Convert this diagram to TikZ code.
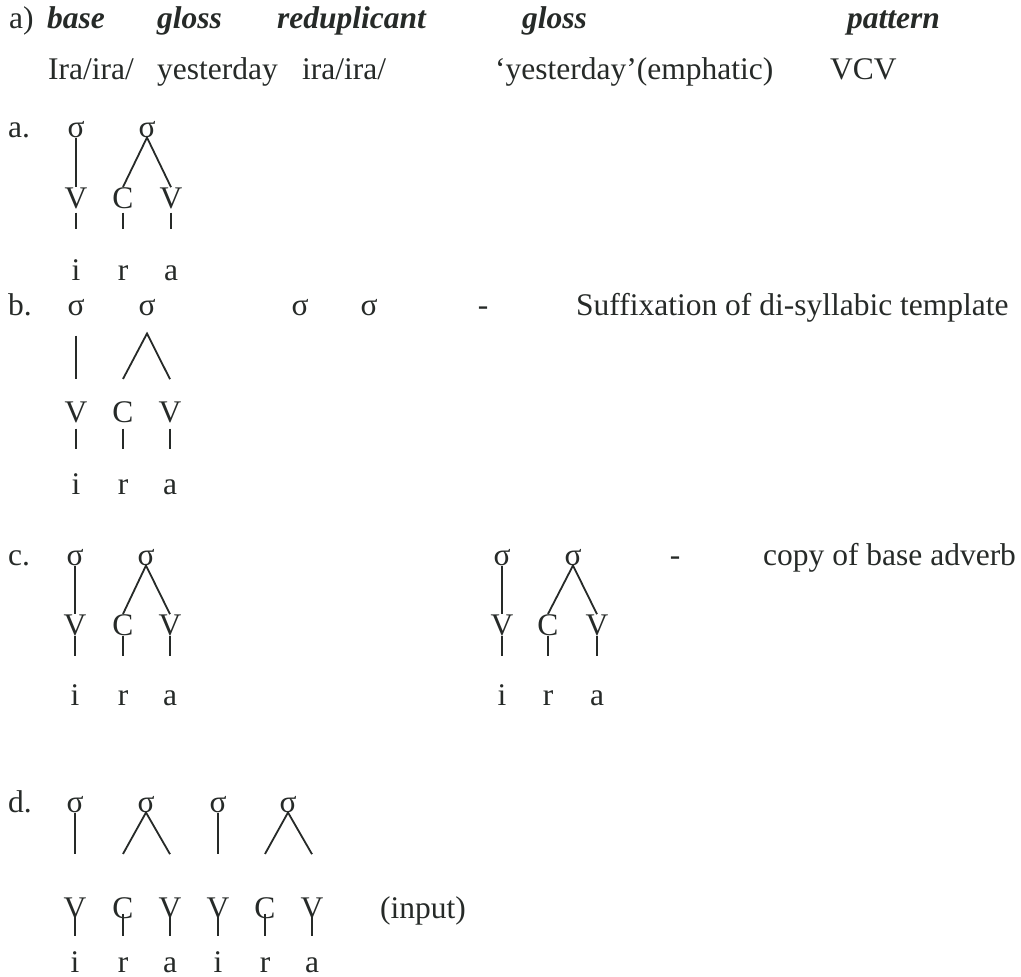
\documentclass[tikz,border=0pt]{standalone}
\usepackage{fontspec}
\setmainfont{Liberation Serif}
\usetikzlibrary{calc}
\definecolor{ink}{HTML}{262A28}

\begin{document}
\fontsize{31.5}{37}\selectfont
\begin{tikzpicture}[x=1pt,y=-1pt,
  every node/.style={inner sep=0pt,anchor=base,text=ink},
  lbl/.style={anchor=base west},
  hd/.style={anchor=base west,font=\bfseries\itshape},
  seg/.style={text height=1.5ex,text depth=0pt},
  assoc/.style={line width=1.8pt,draw=ink}]
\useasboundingbox (0,0) rectangle (1021,977);

\node[lbl] (h-a) at (9,28) {a)};
\node[hd] (h-base) at (47,28) {base};
\node[hd] (h-gloss) at (157,28) {gloss};
\node[hd] (h-red) at (277,28) {reduplicant};
\node[hd] (h-rgloss) at (522,28) {gloss};
\node[hd] (h-pat) at (847,28) {pattern};
\node[lbl] (r-base) at (48,79) {Ira/ira/};
\node[lbl] (r-gloss) at (157,79) {yesterday};
\node[lbl] (r-red) at (302,79) {ira/ira/};
\node[lbl] (r-rgloss) at (495,79) {‘yesterday’(emphatic)};
\node[lbl] (r-pat) at (830,79) {VCV};

\node[lbl] (l-a) at (8,137) {a.};
\node (a-s1) at (76,137) {σ};
\node (a-s2) at (147,137) {σ};
\node (a-v1) at (76,208) {V};
\node (a-c) at (123,208) {C};
\node (a-v2) at (171,208) {V};
\node[seg] (a-i) at (76,280) {i};
\node[seg] (a-r) at (123,280) {r};
\node[seg] (a-a) at (171,280) {a};
\draw[assoc] (a-s1.south) -- (a-v1.north);
\draw[assoc] (a-c.north) -- (a-s2.south) -- (a-v2.north);
\foreach \v/\s in {v1/i,c/r,v2/a}
  \draw[assoc,shorten <=4pt,shorten >=29pt] (a-\v.south) -- (a-\s.north);

\node[lbl] (l-b) at (8,315) {b.};
\node (b-s1) at (76,315) {σ};
\node (b-s2) at (147,315) {σ};
\node (b-v1) at (76,422) {V};
\node (b-c) at (123,422) {C};
\node (b-v2) at (170,422) {V};
\node[seg] (b-i) at (76,494) {i};
\node[seg] (b-r) at (123,494) {r};
\node[seg] (b-a) at (170,494) {a};
\draw[assoc] ($(b-s1.south)+(0,20)$) -- ($(b-v1.north)+(0,-22)$);
\draw[assoc] ($(b-c.north)+(0,-22)$) -- ($(b-s2.south)+(0,18)$) -- ($(b-v2.north)+(0,-22)$);
\foreach \v/\s in {v1/i,c/r,v2/a}
  \draw[assoc,shorten <=6pt,shorten >=23pt] (b-\v.south) -- (b-\s.north);
\node (b-s3) at (300,315) {σ};
\node (b-s4) at (369,315) {σ};
\node (b-dash) at (483,315) {-};
\node[lbl] (b-note) at (576,315) {Suffixation of di-syllabic template};

\node[lbl] (l-c) at (8,565) {c.};
\node (c-s1) at (75,565) {σ};
\node (c-s2) at (146,565) {σ};
\node (c-v1) at (75,635) {V};
\node (c-c) at (123,635) {C};
\node (c-v2) at (170,635) {V};
\node[seg] (c-i) at (75,705) {i};
\node[seg] (c-r) at (123,705) {r};
\node[seg] (c-a) at (170,705) {a};
\draw[assoc] (c-s1.south) -- (c-v1.north);
\draw[assoc] (c-c.north) -- (c-s2.south) -- (c-v2.north);
\foreach \v/\s in {v1/i,c/r,v2/a}
  \draw[assoc,shorten >=27pt] (c-\v.south) -- (c-\s.north);
\node (k-s1) at (502,565) {σ};
\node (k-s2) at (573,565) {σ};
\node (k-v1) at (502,635) {V};
\node (k-c) at (548,635) {C};
\node (k-v2) at (597,635) {V};
\node[seg] (k-i) at (502,705) {i};
\node[seg] (k-r) at (548,705) {r};
\node[seg] (k-a) at (597,705) {a};
\draw[assoc] (k-s1.south) -- (k-v1.north);
\draw[assoc] (k-c.north) -- (k-s2.south) -- (k-v2.north);
\foreach \v/\s in {v1/i,c/r,v2/a}
  \draw[assoc,shorten >=27pt] (k-\v.south) -- (k-\s.north);
\node (k-dash) at (675,565) {-};
\node[lbl] (k-note) at (763,565) {copy of base adverb};

\node[lbl] (l-d) at (8,812) {d.};
\node (d-s1) at (75,812) {σ};
\node (d-s2) at (146,812) {σ};
\node (d-s3) at (218,812) {σ};
\node (d-s4) at (288,812) {σ};
\foreach \n/\t/\x in {v1/V/75,c1/C/123,v2/V/170,v3/V/218,c2/C/265,v4/V/312}
  \node (d-\n) at (\x,918) {\t};
\foreach \n/\t/\x in {i1/i/75,r1/r/123,a1/a/170,i2/i/218,r2/r/265,a2/a/312}
  \node[seg] (d-\n) at (\x,972) {\t};
\draw[assoc] (d-s1.south) -- ($(d-v1.north)+(0,-43)$);
\draw[assoc] ($(d-c1.north)+(0,-43)$) -- (d-s2.south) -- ($(d-v2.north)+(0,-43)$);
\draw[assoc] (d-s3.south) -- ($(d-v3.north)+(0,-43)$);
\draw[assoc] ($(d-c2.north)+(0,-43)$) -- (d-s4.south) -- ($(d-v4.north)+(0,-43)$);
\foreach \v/\s in {v1/i1,c1/r1,v2/a1,v3/i2,c2/r2,v4/a2}
  \draw[assoc,shorten <=-5pt,shorten >=14pt] (d-\v.south) -- (d-\s.north);
\node[lbl] (d-note) at (380,918) {(input)};
\end{tikzpicture}
\end{document}
